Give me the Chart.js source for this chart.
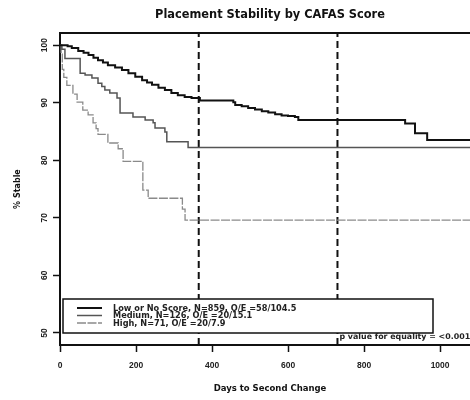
<!DOCTYPE html>
<html>
<head>
<meta charset="utf-8">
<title>Placement Stability by CAFAS Score</title>
<script src="https://cdn.jsdelivr.net/npm/chart.js@4.4.0/dist/chart.umd.min.js"></script>
<style>
    html, body { margin: 0; padding: 0; background: #fff; overflow: hidden; }
    #wrap { width: 470px; height: 400px; overflow: hidden; position: relative; }
    #wrap canvas { position: absolute; left: 0; top: 0; }
</style>
</head>
<body>
<div id="wrap"><canvas id="StabilityByScore" width="480" height="400"></canvas></div>
<script>
// Kaplan-Meier steps (day of drop, % stable after it)
const lowDays = [0, 20, 31, 48, 62, 75, 88, 100, 113, 126, 145, 163, 180, 198, 216, 229, 242, 259, 276, 293, 310, 328, 346, 368, 456, 461, 478, 495, 513, 531, 548, 566, 583, 600, 618, 627, 908, 934, 966, 1090];
const lowPct  = [100, 99.8, 99.5, 99.0, 98.7, 98.3, 97.8, 97.4, 97.0, 96.5, 96.1, 95.7, 95.1, 94.5, 93.9, 93.5, 93.1, 92.6, 92.2, 91.7, 91.3, 91.0, 90.8, 90.4, 90.1, 89.6, 89.4, 89.1, 88.8, 88.5, 88.3, 88.0, 87.8, 87.7, 87.5, 87.0, 86.4, 84.7, 83.5, 83.5];

const mediumDays = [0, 5, 13, 53, 66, 84, 100, 110, 118, 131, 150, 158, 192, 224, 245, 250, 276, 281, 337, 1090];
const mediumPct  = [100, 99.3, 97.7, 95.1, 94.8, 94.3, 93.4, 92.8, 92.2, 91.7, 90.8, 88.2, 87.5, 87.0, 86.5, 85.6, 84.9, 83.2, 82.2, 82.2];

const highDays = [0, 3, 6, 10, 18, 34, 45, 60, 74, 87, 95, 100, 126, 153, 166, 218, 232, 322, 329, 1090];
const highPct  = [100, 98.6, 95.8, 94.4, 93.0, 91.5, 90.1, 88.7, 87.9, 86.5, 85.5, 84.5, 83.0, 82.0, 79.8, 74.8, 73.4, 71.5, 69.6, 69.6];

const seriesLabels = [
    "Low or No Score, N=859, O/E =58/104.5",
    "Medium, N=126, O/E =20/15.1",
    "High, N=71, O/E =20/7.9"
];

// one and two years
const markerDays = [365, 730];

const xTicks = [0, 200, 400, 600, 800, 1000];
const yTicks = [50, 60, 70, 80, 90, 100];

const pValueText = "p value for equality = <0.001";

const xMin = 0, xMax = 1105;
const yMin = 47.9, yMax = 102.1;

const toPoints = (days, pct) => days.map((d, i) => ({ x: d, y: pct[i] }));

const tickFont = { family: "'Liberation Sans', Arial, sans-serif", size: 8.5, weight: 'bold' };

// frame on top + boxed legend inside the plot
const frameAndLegend = {
    id: 'frameAndLegend',
    afterDatasetsDraw(chart) {
        const ctx = chart.ctx;
        const area = chart.chartArea;

        ctx.save();
        ctx.strokeStyle = '#111';
        ctx.lineWidth = 2;
        ctx.beginPath();
        ctx.moveTo(area.left, area.top);
        ctx.lineTo(area.right, area.top);
        ctx.stroke();

        // legend box
        const boxLeft = area.left + 3, boxTop = 299, boxW = 370, boxH = 34;
        ctx.fillStyle = '#fff';
        ctx.fillRect(boxLeft, boxTop, boxW, boxH);
        ctx.lineWidth = 1.5;
        ctx.strokeRect(boxLeft, boxTop, boxW, boxH);

        const curves = chart.data.datasets.filter(ds => seriesLabels.includes(ds.label));
        ctx.font = "bold 8.2px 'DejaVu Sans', sans-serif";
        ctx.textBaseline = 'middle';
        ctx.textAlign = 'left';
        curves.forEach((ds, i) => {
            const rowY = boxTop + 9 + i * 7.5;
            ctx.strokeStyle = ds.borderColor;
            ctx.lineWidth = ds.borderWidth;
            ctx.setLineDash(ds.borderDash || []);
            ctx.beginPath();
            ctx.moveTo(boxLeft + 14, rowY);
            ctx.lineTo(boxLeft + 39, rowY);
            ctx.stroke();
            ctx.setLineDash([]);
            ctx.fillStyle = '#222';
            ctx.fillText(ds.label, boxLeft + 50, rowY + 0.5);
        });

        // log-rank note under the box, right of the 2-year line
        const x730 = chart.scales.x.getPixelForValue(markerDays[1]);
        ctx.font = "bold 7.9px 'DejaVu Sans', sans-serif";
        ctx.fillStyle = '#222';
        ctx.fillText(pValueText, x730 + 2, boxTop + boxH + 3.5);
        ctx.restore();
    }
};

const curveDatasets = [
    { label: seriesLabels[0], data: toPoints(lowDays, lowPct), borderColor: '#111', borderWidth: 2 },
    { label: seriesLabels[1], data: toPoints(mediumDays, mediumPct), borderColor: '#555', borderWidth: 1.5 },
    { label: seriesLabels[2], data: toPoints(highDays, highPct), borderColor: '#8a8a8a', borderWidth: 1.3, borderDash: [9, 1.5] }
].map(ds => Object.assign(ds, { stepped: true, pointRadius: 0, fill: false }));

const markerDatasets = markerDays.map(d => ({
    label: 'day ' + d,
    data: [{ x: d, y: yMin }, { x: d, y: yMax }],
    borderColor: '#111',
    borderWidth: 2,
    borderDash: [7, 4],
    pointRadius: 0,
    fill: false
}));

const config = {
    type: 'line',
    data: { datasets: curveDatasets.concat(markerDatasets) },
    options: {
        responsive: false,
        animation: false,
        events: [],
        layout: { padding: 0 },
        plugins: {
            legend: { display: false },
            tooltip: { enabled: false },
            title: {
                display: true,
                fullSize: false,
                text: 'Placement Stability by CAFAS Score',
                color: '#111',
                font: { family: "'DejaVu Sans', sans-serif", size: 11.4, weight: 'bold' },
                padding: { top: 8, bottom: 11.4 }
            }
        },
        scales: {
            x: {
                type: 'linear',
                min: xMin,
                max: xMax,
                afterBuildTicks: scale => { scale.ticks = xTicks.map(v => ({ value: v })); },
                afterFit: scale => { scale.height = 55; },
                border: { display: true, color: '#111', width: 2 },
                grid: { display: true, drawOnChartArea: false, drawTicks: true, tickLength: 7, tickColor: '#111', tickWidth: 1.5 },
                ticks: { color: '#222', font: tickFont, padding: 9, maxRotation: 0, callback: v => String(v) },
                title: {
                    display: true,
                    text: 'Days to Second Change',
                    color: '#111',
                    font: { family: "'DejaVu Sans', sans-serif", size: 8.5, weight: 'bold' },
                    padding: { top: 0, bottom: 6 }
                }
            },
            y: {
                type: 'linear',
                min: yMin,
                max: yMax,
                afterBuildTicks: scale => { scale.ticks = yTicks.map(v => ({ value: v })); },
                afterFit: scale => { scale.width = 60; },
                border: { display: true, color: '#111', width: 2 },
                grid: { display: true, drawOnChartArea: false, drawTicks: true, tickLength: 7, tickColor: '#111', tickWidth: 1.5 },
                ticks: { color: '#222', font: tickFont, padding: 1.5, minRotation: 90, maxRotation: 90, crossAlign: 'center', callback: v => String(v) },
                title: {
                    display: true,
                    text: '% Stable',
                    color: '#111',
                    font: { family: "'DejaVu Sans', sans-serif", size: 8, weight: 'bold' },
                    padding: { top: 13, bottom: 0 }
                }
            }
        }
    },
    plugins: [frameAndLegend]
};

new Chart(document.getElementById('StabilityByScore'), config);
</script>
</body>
</html>
